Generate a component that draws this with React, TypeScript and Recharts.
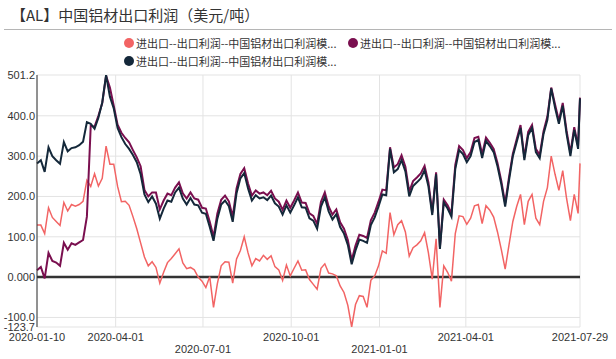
import React from 'react';
import { LineChart, Line, XAxis, YAxis, CartesianGrid, ReferenceLine } from 'recharts';

const START_DATE = '2020-01-10';
const END_DATE = '2021-07-29';
const STEP_DAYS = 4;

const SERIES_NAMES = [
  '进出口--出口利润--中国铝材出口利润模...',
  '进出口--出口利润--中国铝材出口利润模...',
  '进出口--出口利润--中国铝材出口利润模...',
];
const SERIES_COLORS = ['#f26464', '#7a0f4f', '#14283a'];

const X_TICK_LABELS = ['2020-01-10', '2020-04-01', '2020-07-01', '2020-10-01', '2021-01-01', '2021-04-01', '2021-07-29'];
const Y_TICKS = [-123.7, -100, 0, 100, 200, 300, 400, 501.2];

const SALMON = [
  129, 129, 108, 172, 148, 138, 128, 185, 164, 180,
  176, 180, 188, 240, 225, 256, 226, 245, 325, 280,
  280, 225, 187, 188, 178, 150, 120, 85, 50, 28,
  38, 24, -15, 12, 36, 46, 58, 70, 35, 21,
  24, 18, 0, -10, -26, 1, -75, -16, 28, 38,
  37, -15, 45, 66, 100, 60, 28, 46, 40, 54,
  44, 53, 26, 18, -8, 30, 3, 22, 40, 17,
  18, -6, -18, -30, 22, 33, 10, 8, 3, -22,
  -38, -70, -123.7, -68, -46, -48, -75, -8, 3, 28,
  65, 59, 160, 105, 130, 140, 112, 52, 73, 80,
  90, 110, 60, -5, 95, -75, 28, 12, -10, 108,
  152, 150, 131, 146, 177, 180, 133, 177, 166, 149,
  112, 68, 20, 80, 138, 175, 205, 130, 188, 205,
  146, 130, 188, 222, 300, 255, 215, 264, 195, 140,
  205, 158, 282,
];

const PURPLE = [
  17, 25, -3, 60, 40, 36, 28, 85, 68, 84,
  80, 86, 92, 150, 375, 373, 400, 431, 499, 470,
  425, 378, 358, 345, 334, 315, 297, 275, 216, 200,
  210, 210, 168, 190, 207, 203, 222, 235, 208, 195,
  210, 195, 192, 172, 170, 138, 100, 158, 192, 202,
  188, 150, 220, 256, 270, 232, 202, 215, 207, 210,
  203, 214, 195, 187, 167, 190, 172, 190, 210, 185,
  184, 158, 152, 132, 187, 210, 175, 155, 168, 136,
  120, 92, 42, 78, 105, 102, 97, 141, 160, 187,
  217, 215, 322, 272, 280, 302, 274, 212, 238, 247,
  257, 276, 235, 160, 260, 75, 192, 178, 158, 278,
  325, 315, 295, 310, 345, 348, 305, 346, 333, 318,
  283, 238, 183, 248, 306, 342, 377, 297, 360, 377,
  318, 303, 362, 398, 470, 428, 388, 432, 363, 308,
  372, 325, 445,
];

const NAVY = [
  282, 290, 261, 322, 300, 290, 281, 335, 312, 320,
  322, 327, 336, 384, 380, 368, 395, 433, 501.2, 447,
  418, 370, 347, 330, 318, 303, 285, 255, 205, 186,
  200, 182, 145, 170, 190, 187, 210, 222, 195, 180,
  196, 180, 178, 160, 157, 125, 90, 145, 180, 190,
  176, 137, 208, 245, 258, 220, 190, 203, 195, 198,
  191, 202, 183, 175, 155, 178, 160, 178, 198, 173,
  172, 146, 140, 120, 175, 198, 163, 143, 156, 124,
  108, 80, 32, 66, 93, 90, 85, 129, 148, 175,
  205, 203, 318, 260, 268, 290, 262, 200, 226, 235,
  245, 265, 225, 154, 255, 70, 185, 170, 150, 268,
  315, 305, 285, 300, 335, 340, 295, 338, 325, 310,
  275, 230, 175, 240, 300, 335, 370, 290, 352, 370,
  310, 295, 355, 390, 468, 420, 380, 425, 355, 300,
  365, 318, 443,
];

const DAY_MS = 86400000;
const parseDate = (s: string) => {
  const [y, m, d] = s.split('-').map(Number);
  return Date.UTC(y, m - 1, d);
};
const fmtDate = (t: number) => new Date(t).toISOString().slice(0, 10);

const T0 = parseDate(START_DATE);
const TEND = parseDate(END_DATE);
const X_TICKS = X_TICK_LABELS.map(parseDate);

const data = SALMON.map((v, i) => ({
  t: i === SALMON.length - 1 ? TEND : T0 + i * STEP_DAYS * DAY_MS,
  a: v,
  b: PURPLE[i],
  c: NAVY[i],
}));

const TICK_FONT = '"Liberation Sans", Arial, sans-serif';
const CJK_FONT = '"Noto Sans CJK SC", "Noto Sans", sans-serif';

const XTick = (props: any) => {
  const { x, y, payload, index } = props;
  const lower = index === 2 || index === 4;
  return (
    <text x={x} y={y + (lower ? 26 : 14)} textAnchor="middle" fontSize={11} fill="#333" fontFamily={TICK_FONT}>
      {fmtDate(payload.value)}
    </text>
  );
};

const fmtY = (v: number) => (v === 0 ? '0.000' : v.toFixed(1));

const LEGEND_POS = [
  { left: 124, top: 37 },
  { left: 348, top: 37 },
  { left: 124, top: 55 },
];

export default function App() {
  return (
    <div style={{ position: 'fixed', left: 0, top: 0, width: 616, height: 359, background: '#fff', overflow: 'hidden' }}>
      <div style={{ position: 'absolute', left: 11, top: 5, fontSize: 15, lineHeight: '20px', color: '#333', fontFamily: CJK_FONT, whiteSpace: 'nowrap' }}>
        【AL】中国铝材出口利润（美元/吨）
      </div>
      <div style={{ position: 'absolute', left: 4, top: 29, width: 608, height: 1, background: '#b5b5b5' }} />
      {SERIES_NAMES.map((name, i) => (
        <div key={i} style={{ position: 'absolute', left: LEGEND_POS[i].left, top: LEGEND_POS[i].top, height: 12, display: 'flex', alignItems: 'center', whiteSpace: 'nowrap' }}>
          <span style={{ display: 'inline-block', width: 10, height: 10, borderRadius: 5, background: SERIES_COLORS[i], marginRight: 2 }} />
          <span style={{ fontSize: 11, lineHeight: '12px', color: '#333', fontFamily: CJK_FONT }}>{name}</span>
        </div>
      ))}
      <div style={{ position: 'absolute', left: 0, top: 0 }}>
        <LineChart width={616} height={359} data={data} margin={{ top: 75, right: 36, bottom: 0, left: 0 }}>
          <CartesianGrid stroke="#e3e3e3" strokeWidth={1} />
          <XAxis
            dataKey="t"
            type="number"
            scale="time"
            domain={[T0, TEND]}
            ticks={X_TICKS}
            interval={0}
            tick={<XTick />}
            tickLine={false}
            axisLine={false}
            tickSize={0}
            tickMargin={0}
            height={32}
          />
          <YAxis
            type="number"
            domain={[Y_TICKS[0], Y_TICKS[Y_TICKS.length - 1]]}
            ticks={Y_TICKS}
            interval={0}
            tickFormatter={fmtY}
            tick={{ fontSize: 11, fill: '#333', fontFamily: TICK_FONT }}
            tickLine={false}
            tickSize={0}
            tickMargin={2}
            axisLine={{ stroke: '#333', strokeWidth: 1 }}
            width={37}
            allowDataOverflow
          />
          <ReferenceLine y={0} stroke="#333" strokeWidth={2.5} />
          <Line type="linear" dataKey="a" name={SERIES_NAMES[0]} stroke={SERIES_COLORS[0]} strokeWidth={1.5} dot={false} isAnimationActive={false} />
          <Line type="linear" dataKey="b" name={SERIES_NAMES[1]} stroke={SERIES_COLORS[1]} strokeWidth={2} dot={false} isAnimationActive={false} />
          <Line type="linear" dataKey="c" name={SERIES_NAMES[2]} stroke={SERIES_COLORS[2]} strokeWidth={2} dot={false} isAnimationActive={false} />
        </LineChart>
      </div>
    </div>
  );
}
